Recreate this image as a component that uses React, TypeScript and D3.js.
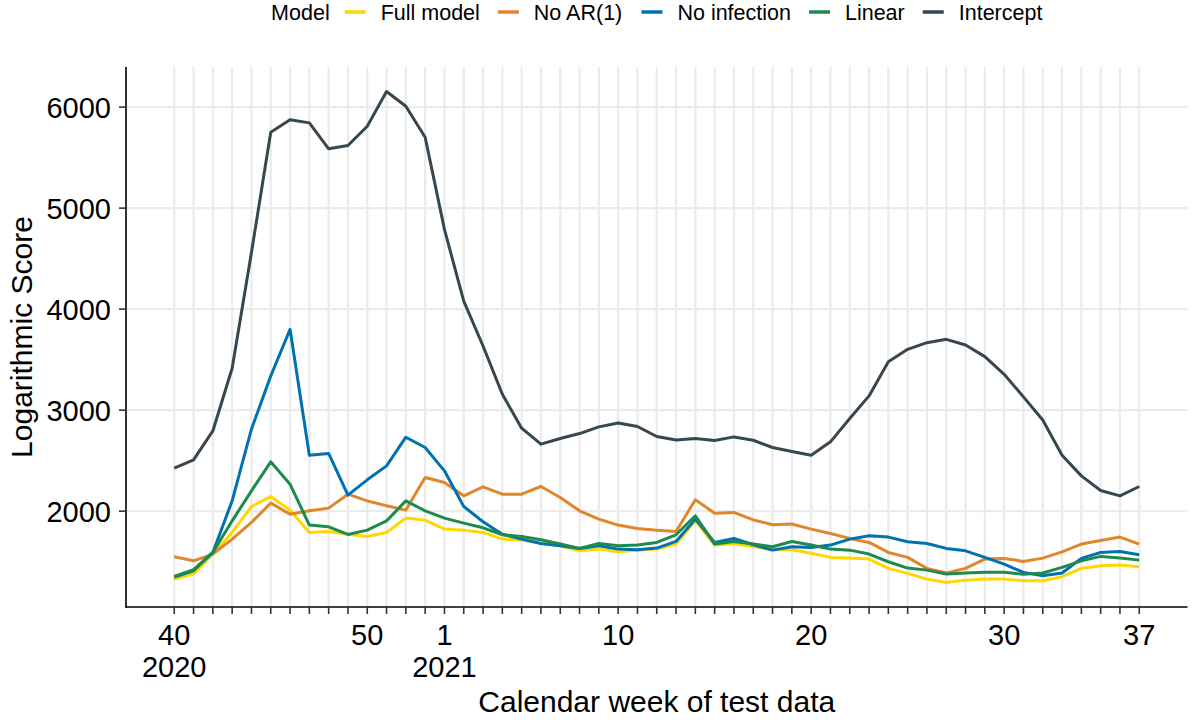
import React from 'react';
import * as d3 from 'd3';

const weeks = [40, 41, 42, 43, 44, 45, 46, 47, 48, 49, 50, 51, 52, 53, 1, 2, 3, 4, 5, 6, 7, 8, 9, 10, 11, 12, 13, 14, 15, 16, 17, 18, 19, 20, 21, 22, 23, 24, 25, 26, 27, 28, 29, 30, 31, 32, 33, 34, 35, 36, 37];
const years = ['2020', '', '', '', '', '', '', '', '', '', '', '', '', '', '2021'];
const labelledWeeks = [40, 50, 1, 10, 20, 30, 37];

const fullModel = [1327, 1377, 1575, 1789, 2046, 2145, 2010, 1789, 1799, 1772, 1749, 1789, 1931, 1911, 1822, 1812, 1789, 1723, 1713, 1683, 1657, 1607, 1624, 1597, 1614, 1624, 1674, 1904, 1664, 1677, 1650, 1617, 1617, 1584, 1542, 1535, 1525, 1433, 1384, 1327, 1294, 1317, 1327, 1327, 1311, 1311, 1351, 1433, 1459, 1466, 1449];
const noAR1 = [1548, 1508, 1575, 1723, 1888, 2079, 1970, 2003, 2030, 2168, 2102, 2053, 2010, 2333, 2284, 2152, 2241, 2168, 2168, 2244, 2135, 2003, 1921, 1862, 1829, 1812, 1799, 2112, 1980, 1987, 1914, 1865, 1872, 1822, 1779, 1730, 1690, 1591, 1542, 1433, 1387, 1433, 1525, 1532, 1502, 1535, 1597, 1674, 1710, 1743, 1674];
const noInfection = [1347, 1410, 1591, 2102, 2811, 3338, 3800, 2554, 2571, 2158, 2310, 2448, 2732, 2630, 2399, 2046, 1895, 1772, 1723, 1680, 1657, 1631, 1657, 1624, 1617, 1634, 1700, 1921, 1690, 1730, 1667, 1614, 1647, 1640, 1664, 1723, 1756, 1743, 1697, 1680, 1631, 1607, 1542, 1476, 1394, 1360, 1387, 1532, 1591, 1601, 1568];
const linear = [1354, 1420, 1591, 1904, 2201, 2488, 2267, 1862, 1845, 1769, 1812, 1904, 2102, 2003, 1931, 1881, 1835, 1766, 1749, 1716, 1674, 1631, 1680, 1657, 1664, 1690, 1766, 1954, 1674, 1700, 1674, 1647, 1700, 1664, 1624, 1614, 1575, 1499, 1436, 1416, 1377, 1387, 1394, 1394, 1374, 1387, 1443, 1508, 1552, 1535, 1515];
const intercept = [2425, 2507, 2794, 3414, 4560, 5752, 5874, 5844, 5587, 5620, 5811, 6154, 6009, 5702, 4789, 4080, 3635, 3157, 2821, 2663, 2719, 2768, 2834, 2873, 2838, 2739, 2705, 2719, 2699, 2735, 2702, 2630, 2590, 2554, 2686, 2917, 3141, 3480, 3602, 3668, 3701, 3645, 3530, 3355, 3131, 2903, 2554, 2349, 2205, 2151, 2244];

const seriesNames = ['Full model', 'No AR(1)', 'No infection', 'Linear', 'Intercept'];
const seriesValues = [fullModel, noAR1, noInfection, linear, intercept];
const seriesColors = ['#FFD700', '#E0862B', '#0072B2', '#1E8A4C', '#36474F'];
const yTicks = [2000, 3000, 4000, 5000, 6000];

const W = 1194;
const H = 722;
const M = { left: 126, right: 1187.5, top: 67, bottom: 607 };
const FONT = '"Liberation Sans", Arial, Helvetica, sans-serif';

function textWidth(s: string, size: number) {
  if (typeof document === 'undefined') return s.length * size * 0.5;
  const c = document.createElement('canvas');
  const ctx = c.getContext('2d');
  if (!ctx) return s.length * size * 0.5;
  ctx.font = `${size}px ${FONT}`;
  return ctx.measureText(s).width;
}

export default function App() {
  const n = weeks.length;
  const xExp = (n - 1) * 0.05;
  const x = d3.scaleLinear().domain([-xExp, n - 1 + xExp]).range([M.left, M.right]);
  const all = seriesValues.flat();
  const [mn, mx] = d3.extent(all) as [number, number];
  const yExp = (mx - mn) * 0.05;
  const y = d3.scaleLinear().domain([mn - yExp, mx + yExp]).range([M.bottom, M.top]);

  const line = d3.line<number>().x((_, i) => x(i)).y((v) => y(v));

  // legend layout
  const legSize = 21.5;
  const keyLen = 21;
  const titleW = textWidth('Model', legSize);
  const itemWs = seriesNames.map((s) => textWidth(s, legSize));
  const total = titleW + 15 + itemWs.reduce((a, w) => a + keyLen + 15 + w, 0) + 18 * (seriesNames.length - 1);
  const legStart = (M.left + M.right) / 2 - total / 2;
  const legItems: { kx: number; tx: number }[] = [];
  let cx = legStart + titleW + 15;
  itemWs.forEach((w) => {
    legItems.push({ kx: cx, tx: cx + keyLen + 15 });
    cx += keyLen + 15 + w + 18;
  });
  const legBase = 20;

  return (
    <div style={{ position: 'absolute', left: 0, top: 0 }}>
      <svg width={W} height={H} style={{ display: 'block', background: '#fff' }} fontFamily={FONT}>
        <rect x={0} y={0} width={W} height={H} fill="#fff" />
        {/* grid */}
        {weeks.map((_, i) => (
          <line key={'gx' + i} x1={x(i)} x2={x(i)} y1={M.top} y2={M.bottom} stroke="#EBEBEB" strokeWidth={2.2} />
        ))}
        {yTicks.map((t) => (
          <line key={'gy' + t} x1={M.left} x2={M.right} y1={y(t)} y2={y(t)} stroke="#EBEBEB" strokeWidth={2.2} />
        ))}
        {/* lines */}
        {seriesValues.map((vals, k) => (
          <path key={'s' + k} d={line(vals) || ''} fill="none" stroke={seriesColors[k]} strokeWidth={3} strokeLinejoin="round" strokeLinecap="butt" />
        ))}
        {/* axes */}
        <line x1={M.left} x2={M.left} y1={M.top} y2={M.bottom + 0.75} stroke="#000" strokeWidth={1.6} />
        <line x1={M.left - 0.75} x2={M.right} y1={M.bottom} y2={M.bottom} stroke="#000" strokeWidth={1.6} />
        {yTicks.map((t) => (
          <g key={'yt' + t}>
            <line x1={M.left - 7} x2={M.left} y1={y(t)} y2={y(t)} stroke="#333" strokeWidth={1.6} />
            <text x={M.left - 15} y={y(t)} dy="0.36em" textAnchor="end" fontSize={29} fill="#000">{t}</text>
          </g>
        ))}
        {weeks.map((w, i) => (
          <g key={'xt' + i}>
            <line x1={x(i)} x2={x(i)} y1={M.bottom} y2={M.bottom + 7} stroke="#333" strokeWidth={1.6} />
            {labelledWeeks.includes(w) ? (
              <text x={x(i)} y={645} textAnchor="middle" fontSize={29} fill="#000">
                <tspan x={x(i)}>{w}</tspan>
                {years[i] ? <tspan x={x(i)} y={677}>{years[i]}</tspan> : null}
              </text>
            ) : null}
          </g>
        ))}
        {/* titles */}
        <text x={(M.left + M.right) / 2} y={712} textAnchor="middle" fontSize={30} fill="#000">Calendar week of test data</text>
        <text transform={`translate(32, ${(M.top + M.bottom) / 2}) rotate(-90)`} textAnchor="middle" fontSize={30} fill="#000">Logarithmic Score</text>
        {/* legend */}
        <text x={legStart} y={legBase} fontSize={legSize} fill="#000">Model</text>
        {seriesNames.map((s, k) => (
          <g key={'lg' + k}>
            <line x1={legItems[k].kx} x2={legItems[k].kx + keyLen} y1={legBase - 8} y2={legBase - 8} stroke={seriesColors[k]} strokeWidth={3.5} />
            <text x={legItems[k].tx} y={legBase} fontSize={legSize} fill="#000">{s}</text>
          </g>
        ))}
      </svg>
    </div>
  );
}
